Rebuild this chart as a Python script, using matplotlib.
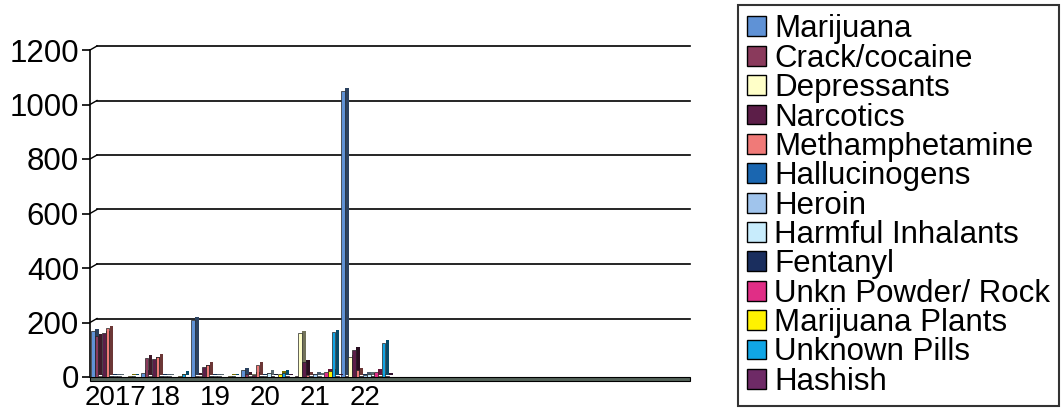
import numpy as np
import matplotlib
matplotlib.use("Agg")
import matplotlib.pyplot as plt
import matplotlib.patheffects as pe
import matplotlib.transforms as mtransforms
from matplotlib.patches import Rectangle, Patch

plt.rcParams['font.family'] = ['Liberation Sans', 'DejaVu Sans']

#### DATA ####
categories = ['2017', '18', '19', '20', '21', '22', '', '', '', '', '', '']

series_names = ['Marijuana', 'Crack/cocaine', 'Depressants', 'Narcotics',
                'Methamphetamine', 'Hallucinogens', 'Heroin', 'Harmful Inhalants',
                'Fentanyl', 'Unkn Powder/ Rock', 'Marijuana Plants', 'Unknown Pills',
                'Hashish']

marijuana = [168, 15, 210, 25, 0, 1050]
crack = [150, 70, 5, 10, 3, 5]
depressants = [3, 2, 2, 2, 160, 72]
narcotics = [160, 65, 35, 8, 55, 100]
meth = [178, 75, 45, 45, 8, 25]
hallucinogens = [3, 2, 2, 3, 2, 3]
heroin = [2, 3, 2, 5, 10, 8]
harmful_inhalants = [2, 2, 2, 15, 5, 10]
fentanyl = [0, 0, 0, 2, 0, 4]
unkn_powder = [0, 0, 0, 0, 20, 20]
marijuana_plants = [2, 2, 2, 12, 22, 3]
unknown_pills = [3, 12, 3, 15, 165, 125]
hashish = [0, 0, 0, 2, 3, 5]

series_values = [marijuana, crack, depressants, narcotics, meth, hallucinogens,
                 heroin, harmful_inhalants, fentanyl, unkn_powder,
                 marijuana_plants, unknown_pills, hashish]

colors = ['#5f92d6', '#8a3a5c', '#ffffc8', '#5c1e48', '#f07a78', '#1a66b0',
          '#a0c4ec', '#c8ecfc', '#1a2e5e', '#e02e86', '#fff200', '#10a6e6',
          '#6e2a66']
#### DATA ####

fig = plt.figure(figsize=(10.61, 4.17), dpi=100)
ax = fig.add_axes([90/1061, 40/417, 600/1061, 327/417])

n_cat = len(categories)
n_ser = len(series_names)
bar_w = 1.0 / 13.5
x = np.arange(n_cat)

# back wall gridlines, shifted a bit up/right like the 3D chart
yticks = [0, 200, 400, 600, 800, 1000, 1200]
dy = 4 / 327 * 1200
dx = 7 / 600
blend = mtransforms.blended_transform_factory(ax.transAxes, ax.transData)
for yt in yticks[1:]:
    ax.plot([dx, 1], [yt + dy, yt + dy], color='black', lw=1.2,
            transform=blend, clip_on=False, zorder=0)
    ax.plot([0, dx], [yt, yt + dy], color='black', lw=1.0,
            transform=blend, clip_on=False, zorder=0)

# floor slab
ax.add_patch(Rectangle((0, -14), 1, 14, transform=blend, facecolor='#55645a',
                       edgecolor='black', lw=0.8, clip_on=False, zorder=1))

shade = [pe.SimplePatchShadow(offset=(2.8, 1.8), rho=0.45, alpha=1.0), pe.Normal()]
for i, (vals, col) in enumerate(zip(series_values, colors)):
    xs = x[:len(vals)] + (i - 6) * bar_w
    ax.bar(xs, vals, width=bar_w, color=col, edgecolor='#222222', lw=0.5,
           zorder=2 + i * 0.01, path_effects=shade)

ax.set_xlim(-0.5, n_cat - 0.5)
ax.set_ylim(0, 1200)
ax.set_yticks(yticks)
ax.set_yticklabels([str(v) for v in yticks], fontsize=22.5)
ax.set_xticks(x)
ax.set_xticklabels(categories, fontsize=20)
ax.tick_params(axis='x', length=0, pad=6)
ax.tick_params(axis='y', length=6, width=1.2, pad=2)
for s in ['top', 'right', 'bottom']:
    ax.spines[s].set_visible(False)
ax.spines['left'].set_linewidth(1.2)

handles = [Patch(facecolor=c, edgecolor='black', lw=1.0) for c in colors]
leg = fig.legend(handles, series_names, loc='upper left',
                 bbox_to_anchor=(738/1061, 1 - 5/417), fontsize=22.5,
                 frameon=True, fancybox=False, borderaxespad=0, borderpad=0.3,
                 handlelength=0.6, handleheight=0.6, handletextpad=0.25,
                 labelspacing=-0.02)
leg.get_frame().set_edgecolor('black')
leg.get_frame().set_linewidth(1.5)

fig.savefig('out.png', dpi=100, facecolor='white')
